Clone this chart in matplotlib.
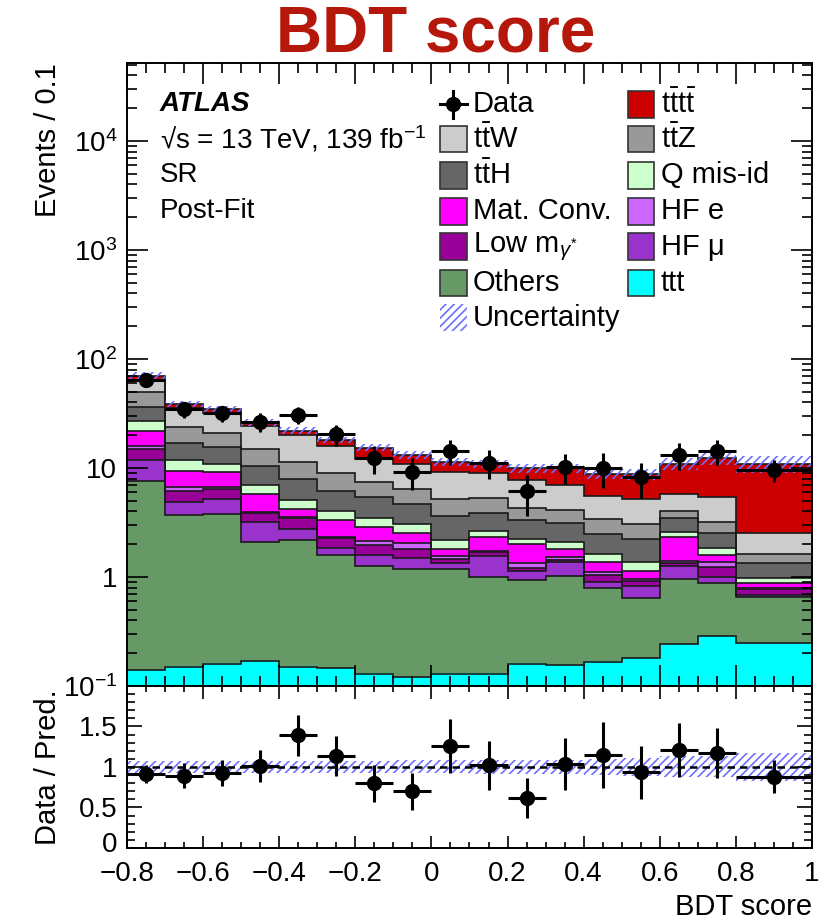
import matplotlib
matplotlib.use('Agg')
import matplotlib.pyplot as plt
import matplotlib.transforms as mtransforms
import numpy as np
from matplotlib.patches import Rectangle
from matplotlib.lines import Line2D
from matplotlib.ticker import MultipleLocator, LogLocator, NullFormatter, FuncFormatter, FixedLocator

plt.rcParams['font.family'] = ['Liberation Sans', 'DejaVu Sans']
plt.rcParams['mathtext.fontset'] = 'custom'
plt.rcParams['mathtext.rm'] = 'Liberation Sans'
plt.rcParams['mathtext.it'] = 'Liberation Sans:italic'
plt.rcParams['mathtext.bf'] = 'Liberation Sans:bold'
plt.rcParams['hatch.linewidth'] = 1.2

# binning (last bin is wider)
bin_edges = [-0.8, -0.7, -0.6, -0.5, -0.4, -0.3, -0.2, -0.1, 0.0, 0.1,
             0.2, 0.3, 0.4, 0.5, 0.6, 0.7, 0.8, 1.0]

# post-fit yields per process (Events / 0.1), bottom of stack first
ttt      = [0.14, 0.15, 0.16, 0.17, 0.15, 0.145, 0.13, 0.12, 0.13, 0.13, 0.16, 0.156, 0.167, 0.18, 0.243, 0.288, 0.249]
others   = [7.51, 3.55, 3.62, 1.93, 2.03, 1.445, 1.14, 1.06, 1.05, 0.86, 0.78, 0.86, 0.62, 0.455, 0.72, 0.587, 0.40]
hf_mu    = [4.15, 1.14, 1.42, 1.07, 0.58, 0.27, 0.33, 0.30, 0.16, 0.58, 0.19, 0.36, 0.12, 0.195, 0.30, 0.115, 0.033]
low_m    = [3.0, 1.35, 1.17, 0.67, 0.69, 0.40, 0.38, 0.33, 0.12, 0.11, 0.07, 0.07, 0.134, 0.093, 0.09, 0.25, 0.087]
hf_e     = [1.1, 0.46, 0.32, 0.13, 0.08, 0.08, 0.14, 0.23, 0.10, 0.05, 0.14, 0.07, 0.06, 0.035, 0.06, 0.14, 0.02]
mat_conv = [6.0, 2.74, 2.44, 1.80, 0.70, 0.99, 0.73, 0.51, 0.25, 0.61, 0.66, 0.28, 0.26, 0.18, 0.93, 0.21, 0.085]
q_misid  = [5.1, 2.41, 1.67, 1.26, 0.86, 0.70, 0.60, 0.49, 0.36, 0.32, 0.22, 0.31, 0.27, 0.24, 0.26, 0.24, 0.095]
tth      = [9.1, 5.3, 4.7, 3.37, 2.89, 2.16, 2.01, 1.63, 1.46, 1.23, 1.11, 1.0, 0.85, 0.84, 0.85, 0.72, 0.37]
ttz      = [13.4, 6.5, 5.3, 4.4, 3.32, 2.75, 2.03, 1.70, 1.53, 1.45, 0.94, 1.01, 0.90, 0.82, 0.61, 0.62, 0.27]
ttw      = [13.7, 12.2, 11.0, 9.6, 8.6, 6.96, 4.6, 4.4, 4.03, 3.72, 3.49, 2.86, 2.19, 2.12, 1.75, 2.25, 0.94]
tttt     = [7.1, 2.8, 2.7, 1.9, 2.1, 2.2, 3.3, 2.4, 2.2, 1.9, 2.2, 2.96, 3.24, 3.65, 5.1, 6.9, 8.35]

# relative total uncertainty of the prediction
unc_rel = [0.07, 0.07, 0.07, 0.07, 0.07, 0.07, 0.075, 0.08, 0.08, 0.085, 0.09, 0.09, 0.10, 0.11, 0.13, 0.13, 0.17]

data     = [64.2, 34.5, 31.8, 26.6, 30.6, 20.5, 12.3, 9.25, 14.4, 11.2, 6.15, 10.3, 10.1, 8.21, 13.2, 14.4, 9.59]
data_err = [8.0, 5.9, 5.6, 5.2, 5.5, 4.5, 3.5, 3.0, 3.8, 3.3, 2.5, 3.2, 3.6, 2.9, 3.6, 3.8, 2.2]

stack = [
    (ttt, '#00FFFF'), (others, '#669966'), (hf_mu, '#9933CC'), (low_m, '#990099'),
    (hf_e, '#CC66FF'), (mat_conv, '#FF00FF'), (q_misid, '#CCFFCC'), (tth, '#666666'),
    (ttz, '#999999'), (ttw, '#CCCCCC'), (tttt, '#CC0000'),
]

edges = np.array(bin_edges)
centers = 0.5 * (edges[1:] + edges[:-1])
halfw = 0.5 * (edges[1:] - edges[:-1])

fig = plt.figure(figsize=(8.37, 9.21), dpi=100)
ax = fig.add_axes([0.1517, 0.2552, 0.8184, 0.6764])
axr = fig.add_axes([0.1517, 0.0793, 0.8184, 0.1759])

# stacked histogram
bottom = np.full(len(centers), 1e-3)
for vals, col in stack:
    top = bottom + np.array(vals)
    ax.stairs(top, edges, baseline=bottom, fill=True, color=col, lw=0)
    bottom = top
cum = np.full(len(centers), 0.0)
for vals, col in stack:
    cum = cum + np.array(vals)
    ax.stairs(cum, edges, baseline=None, color='#1a1a1a', lw=1.2)
total = cum

unc = total * np.array(unc_rel)
ax.stairs(total + unc, edges, baseline=total - unc, fill=True, facecolor='none',
          edgecolor='#6f6fff', hatch='////', lw=0)

ax.errorbar(centers, data, xerr=halfw, yerr=data_err, fmt='o', color='black',
            ms=10, elinewidth=2.2, capsize=0)

ax.set_yscale('log')
ax.set_xlim(-0.8, 1.0)
ax.set_ylim(0.1, 5.2e4)

def log_fmt(v, pos):
    e = int(round(np.log10(v)))
    if e == 0:
        return '1'
    if e == 1:
        return '10'
    return r'$10^{%d}$' % e

ax.yaxis.set_major_locator(LogLocator(base=10, numticks=10))
ax.yaxis.set_major_formatter(FuncFormatter(log_fmt))
ax.yaxis.set_minor_locator(LogLocator(base=10, subs=np.arange(2, 10), numticks=20))
ax.yaxis.set_minor_formatter(NullFormatter())
ax.xaxis.set_major_locator(MultipleLocator(0.2))
ax.xaxis.set_minor_locator(MultipleLocator(0.05))
ax.tick_params(which='both', direction='in', top=True, right=True, labelbottom=False,
               labelsize=20, width=1.2, pad=7)
ax.tick_params(which='major', length=15)
ax.tick_params(which='minor', length=7)
for s in ax.spines.values():
    s.set_linewidth(1.4)

ax.set_ylabel('Events / 0.1', fontsize=21, loc='top')
ax.yaxis.set_label_coords(-0.095, 1.0)

# labels top-left
tx = 0.048
ax.text(tx, 0.934, 'ATLAS', transform=ax.transAxes, fontsize=20, weight='bold',
        style='italic', va='center')
ax.text(tx, 0.878, '√s = 13 TeV, 139 fb$^{-1}$', transform=ax.transAxes,
        fontsize=20, va='center')
ax.text(tx, 0.820, 'SR', transform=ax.transAxes, fontsize=20, va='center')
ax.text(tx, 0.762, 'Post-Fit', transform=ax.transAxes, fontsize=20, va='center')

# legend
rows = [0.934, 0.878, 0.820, 0.762, 0.705, 0.647, 0.591]
col1 = [(r'$\mathrm{t\bar{t}W}$', '#CCCCCC'), (r'$\mathrm{t\bar{t}H}$', '#666666'),
        ('Mat. Conv.', '#FF00FF'), (r'Low m$_{\gamma^{*}}$', '#990099'),
        ('Others', '#669966')]
col2 = [(r'$\mathrm{t\bar{t}t\bar{t}}$', '#CC0000'), (r'$\mathrm{t\bar{t}Z}$', '#999999'),
        ('Q mis-id', '#CCFFCC'), ('HF e', '#CC66FF'), ('HF μ', '#9933CC'), ('ttt', '#00FFFF')]
bw, bh = 0.039, 0.043
x1, x2 = 0.457, 0.731
# data entry
ax.add_line(Line2D([x1, x1 + bw], [rows[0]] * 2, color='k', lw=2.2, transform=ax.transAxes))
ax.add_line(Line2D([x1 + bw / 2] * 2, [rows[0] - bh / 2, rows[0] + bh / 2], color='k', lw=2.2,
                   transform=ax.transAxes))
ax.add_line(Line2D([x1 + bw / 2], [rows[0]], marker='o', ms=10, color='k', transform=ax.transAxes))
ax.text(x1 + bw + 0.009, rows[0], 'Data', transform=ax.transAxes, fontsize=21, va='center')
for i, (lab, col) in enumerate(col1):
    y = rows[i + 1]
    ax.add_patch(Rectangle((x1, y - bh / 2), bw, bh, transform=ax.transAxes,
                           facecolor=col, edgecolor='#333333', lw=1.2))
    ax.text(x1 + bw + 0.009, y, lab, transform=ax.transAxes, fontsize=21, va='center')
ax.add_patch(Rectangle((x1, rows[6] - bh / 2), bw, bh, transform=ax.transAxes,
                       facecolor='none', edgecolor='#6f6fff', hatch='////', lw=0))
ax.text(x1 + bw + 0.009, rows[6], 'Uncertainty', transform=ax.transAxes, fontsize=21, va='center')
for i, (lab, col) in enumerate(col2):
    y = rows[i]
    ax.add_patch(Rectangle((x2, y - bh / 2), bw, bh, transform=ax.transAxes,
                           facecolor=col, edgecolor='#333333', lw=1.2))
    ax.text(x2 + bw + 0.009, y, lab, transform=ax.transAxes, fontsize=21, va='center')

# ratio panel
ratio = np.array(data) / total
ratio_err = np.array(data_err) / total
axr.stairs(1 + np.array(unc_rel), edges, baseline=1 - np.array(unc_rel), fill=True,
           facecolor='none', edgecolor='#6f6fff', hatch='////', lw=0)
axr.axhline(1.0, color='k', ls=(0, (3, 2)), lw=1.8)
axr.errorbar(centers, ratio, xerr=halfw, yerr=ratio_err, fmt='o', color='black',
             ms=10, elinewidth=2.2, capsize=0)
axr.set_xlim(-0.8, 1.0)
axr.set_ylim(0, 2.0)
axr.yaxis.set_major_locator(FixedLocator([0, 0.5, 1, 1.5]))
axr.yaxis.set_minor_locator(MultipleLocator(0.1))
axr.yaxis.set_major_formatter(FuncFormatter(lambda v, p: '%g' % v))
axr.xaxis.set_major_locator(MultipleLocator(0.2))
axr.xaxis.set_minor_locator(MultipleLocator(0.05))
axr.xaxis.set_major_formatter(FuncFormatter(lambda v, p: ('%g' % round(v, 2)).replace('-', '\u2212')))
axr.tick_params(which='both', direction='in', top=True, right=True, labelsize=20, width=1.2)
axr.tick_params(axis='x', which='major', length=9, pad=9.5)
axr.tick_params(axis='x', which='minor', length=4)
axr.tick_params(axis='y', which='major', length=11, pad=7)
axr.tick_params(axis='y', which='minor', length=6)
for s in axr.spines.values():
    s.set_linewidth(1.4)
axr.set_ylabel('Data / Pred.', fontsize=21)
axr.yaxis.set_label_coords(-0.095, 0.5)
axr.set_xlabel('BDT score', fontsize=21, loc='right')
axr.xaxis.set_label_coords(1.0, -0.28)

# nudge the "0" label up a little so it clears the x tick labels
zero_lab = axr.yaxis.get_major_ticks()[0].label1
zero_lab.set_transform(zero_lab.get_transform() +
                       mtransforms.ScaledTranslation(0, 4 / 72, fig.dpi_scale_trans))

fig.text(0.52, 0.962, 'BDT score', fontsize=46, weight='bold', color='#B5180B',
         ha='center', va='center')

fig.savefig('out.png', dpi=100)
plt.close(fig)
